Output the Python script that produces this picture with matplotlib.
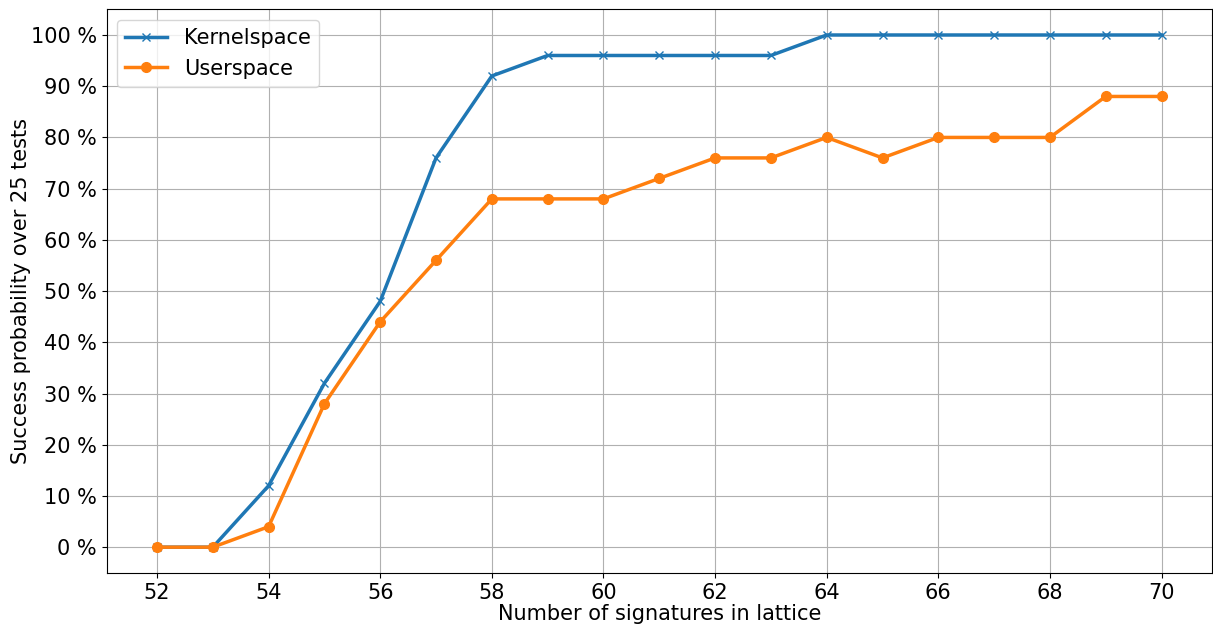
import matplotlib
matplotlib.use("Agg")
import matplotlib.pyplot as plt
from matplotlib.ticker import FuncFormatter

# number of signatures in the lattice
signatures = list(range(52, 71))

# success rate in percent over 25 tests
kernelspace = [0, 0, 12, 32, 48, 76, 92, 96, 96, 96, 96, 96, 100, 100, 100, 100, 100, 100, 100]
userspace = [0, 0, 4, 28, 44, 56, 68, 68, 68, 72, 76, 76, 80, 76, 80, 80, 80, 88, 88]

plt.rcParams["font.size"] = 15

fig, ax = plt.subplots(figsize=(12.13, 6.26), dpi=100)
ax.plot(signatures, kernelspace, marker="x", markersize=6, linewidth=2.5, label="Kernelspace")
ax.plot(signatures, userspace, marker="o", markersize=7, linewidth=2.5, label="Userspace")

ax.set_xticks(range(52, 71, 2))
ax.set_yticks(range(0, 101, 10))
ax.yaxis.set_major_formatter(FuncFormatter(lambda v, _: f"{v:.0f} %"))
ax.set_ylim(-5, 105)
ax.set_xlim(51.1, 70.9)
ax.grid(True)

ax.set_xlabel("Number of signatures in lattice", labelpad=1)
ax.set_ylabel("Success probability over 25 tests", labelpad=0)
ax.legend(loc="upper left")

fig.subplots_adjust(left=0.088, right=0.999, top=0.985, bottom=0.085)
fig.savefig("out.png")
